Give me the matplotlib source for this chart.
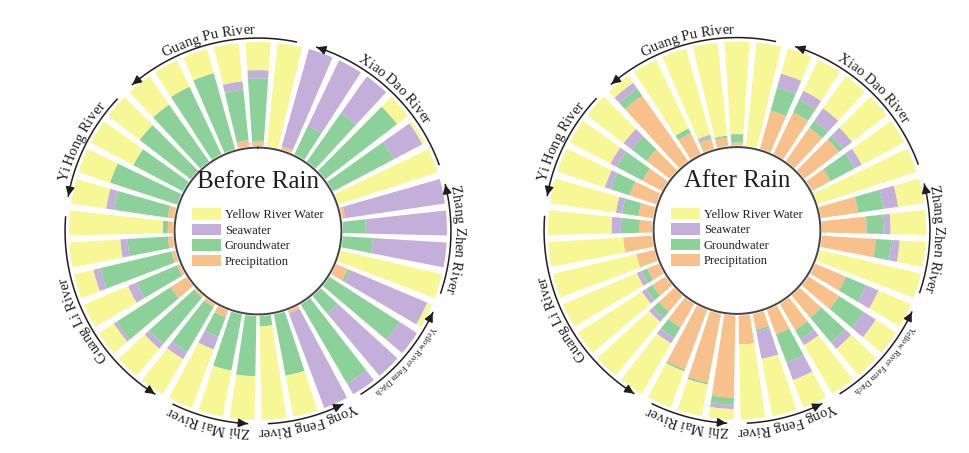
"""
Water source contributions at the sampling sites, before and after rain,
drawn as two circular stacked bar charts.
"""

import numpy as np
import matplotlib.pyplot as plt
from matplotlib.patches import Patch
from matplotlib.font_manager import FontProperties

OUT_FILE = "out.png"

# Sampling sites grouped by river, clockwise from the top-left of each ring
RIVERS = ["Guang Pu River", "Xiao Dao River", "Zhang Zhen River",
          "Yellow River Farm Ditch", "Yong Feng River", "Zhi Mai River",
          "Guang Li River", "Yi Hong River"]
SITES_PER_RIVER = [6, 6, 4, 4, 3, 3, 7, 4]

# Contribution of each source (%), one value per site
BEFORE_PRECIPITATION = [0, 0, 0, 6, 5, 0, 3, 0, 0, 0, 0, 0, 3, 0, 0, 0, 12, 0, 0, 0,
                        3, 0, 0, 0, 0, 7, 3, 2, 18, 3, 4, 5, 5, 6, 0, 0, 0]
BEFORE_GROUNDWATER = [67, 72, 76, 49, 60, 0, 0, 30, 57, 87, 66, 0, 0, 22, 29, 0, 3, 80, 22, 88,
                      0, 60, 10, 58, 55, 20, 50, 58, 62, 42, 70, 39, 5, 52, 68, 54, 62]
BEFORE_SEAWATER = [0, 0, 0, 8, 8, 0, 97, 70, 43, 0, 31, 0, 97, 78, 71, 0, 80, 20, 78, 12,
                   97, 0, 0, 0, 0, 13, 8, 6, 3, 9, 7, 7, 0, 8, 0, 0, 0]
BEFORE_YELLOW_RIVER = [33, 28, 24, 37, 27, 100, 0, 0, 0, 13, 3, 100, 0, 0, 0, 100, 5, 0, 0, 0,
                       0, 40, 90, 42, 45, 60, 39, 34, 17, 46, 19, 49, 90, 34, 32, 46, 38]

AFTER_PRECIPITATION = [77, 22, 10, 8, 3, 0, 38, 44, 39, 42, 20, 0, 36, 43, 52, 0, 32, 35, 28, 29,
                       25, 15, 28, 79, 67, 61, 26, 20, 15, 12, 18, 28, 12, 14, 27, 21, 28]
AFTER_GROUNDWATER = [8, 5, 2, 2, 8, 0, 23, 13, 8, 5, 26, 0, 25, 16, 15, 0, 21, 28, 31, 10,
                     29, 2, 0, 7, 2, 2, 12, 8, 7, 6, 0, 0, 18, 16, 19, 28, 18]
AFTER_SEAWATER = [7, 0, 2, 0, 0, 0, 14, 10, 15, 11, 8, 0, 14, 7, 8, 0, 13, 14, 8, 7,
                  18, 27, 0, 4, 0, 0, 6, 5, 5, 5, 0, 0, 9, 6, 6, 7, 10]
AFTER_YELLOW_RIVER = [8, 73, 86, 90, 89, 100, 25, 33, 38, 42, 46, 100, 25, 34, 25, 100, 34, 23, 33, 54,
                      28, 56, 72, 10, 31, 37, 56, 67, 73, 77, 82, 72, 61, 64, 48, 44, 44]

LEGEND_NAMES = ["Yellow River Water", "Seawater", "Groundwater", "Precipitation"]
COLORS = {"Yellow River Water": "#F8F796", "Seawater": "#C3AFD9",
          "Groundwater": "#8DD19A", "Precipitation": "#F8C08B"}

# Layout (pixels / radial units)
FIG_W, FIG_H, DPI = 969, 453, 100
HOLE = 81.7          # radius of the empty centre, in % units
RMAX = 200
PX_PER_UNIT = 1.04
ARROW_R = 185.5
LABEL_R = 189.5
FONT = "Liberation Serif"
INK = "#1e1e1e"

plt.rcParams["font.family"] = FONT


def curved_label(ax, renderer, text, center, size):
    """Writes text along the ring, letters pointing outwards, reading clockwise."""
    prop = FontProperties(family=FONT, size=size)
    bar_w = renderer.get_text_width_height_descent("|", prop, ismath=False)[0]

    def width(s):
        return renderer.get_text_width_height_descent(s + "|", prop, ismath=False)[0] - bar_w

    r_px = LABEL_R * PX_PER_UNIT
    start = center - width(text) / 2 / r_px
    for i, ch in enumerate(text):
        if ch == " ":
            continue
        mid = (width(text[:i]) + width(text[:i + 1])) / 2
        th = start + mid / r_px
        ax.text(th, LABEL_R, ch, rotation=-np.degrees(th), rotation_mode="anchor",
                ha="center", va="baseline", fontproperties=prop, color=INK)


def draw_ring(fig, center_px, title, layers):
    """layers: (name, values) from the inner ring outwards."""
    half = RMAX * PX_PER_UNIT
    cx, cy = center_px
    ax = fig.add_axes([(cx - half) / FIG_W, (FIG_H - cy - half) / FIG_H,
                       2 * half / FIG_W, 2 * half / FIG_H], projection="polar")
    ax.set_theta_zero_location("N")
    ax.set_theta_direction(-1)

    n = len(layers[0][1])
    step = 2 * np.pi / n
    theta = (np.arange(n) - 4) * step
    bottom = np.full(n, HOLE)
    for name, values in layers:
        values = np.asarray(values, dtype=float)
        ax.bar(theta, values, width=0.78 * step, bottom=bottom,
               color=COLORS[name], linewidth=0)
        bottom = bottom + values

    ring = np.linspace(0, 2 * np.pi, 361)
    ax.plot(ring, np.full_like(ring, HOLE - 1.5), color="#444444", lw=1.4)
    ax.set_ylim(0, RMAX)
    ax.axis("off")

    # river arcs with arrows and curved names
    renderer = fig.canvas.get_renderer()
    first = 0
    for river, count in zip(RIVERS, SITES_PER_RIVER):
        t0 = theta[first] - 0.03
        t1 = theta[first + count - 1] + 0.03
        arc = np.linspace(t0, t1, 100)
        ax.plot(arc, np.full_like(arc, ARROW_R), color=INK, lw=1.1)
        ax.annotate("", xy=(t0, ARROW_R), xytext=(t0 + 0.05, ARROW_R),
                    arrowprops=dict(arrowstyle="-|>", color=INK, lw=1.1,
                                    mutation_scale=13, shrinkA=0, shrinkB=0))
        size = 6 if len(river) > 16 else 10.5
        curved_label(ax, renderer, river, (t0 + t1) / 2, size)
        first += count

    ax.text(0.5, 0.5 + 49 / (2 * half), title, transform=ax.transAxes,
            ha="center", va="center", fontsize=18, color=INK)
    handles = [Patch(facecolor=COLORS[name], edgecolor="none") for name in LEGEND_NAMES]
    ax.legend(handles, LEGEND_NAMES, loc="center",
              bbox_to_anchor=(0.5, 0.5 - 7 / (2 * half)), frameon=False,
              fontsize=9, handlelength=2.25, handleheight=1.05,
              handletextpad=0.35, labelspacing=0.2, labelcolor=INK)
    return ax


def execute():
    fig = plt.figure(figsize=(FIG_W / DPI, FIG_H / DPI), dpi=DPI)
    draw_ring(fig, (258, 231), "Before Rain", [
        ("Precipitation", BEFORE_PRECIPITATION),
        ("Groundwater", BEFORE_GROUNDWATER),
        ("Seawater", BEFORE_SEAWATER),
        ("Yellow River Water", BEFORE_YELLOW_RIVER),
    ])
    draw_ring(fig, (737, 230.5), "After Rain", [
        ("Precipitation", AFTER_PRECIPITATION),
        ("Groundwater", AFTER_GROUNDWATER),
        ("Seawater", AFTER_SEAWATER),
        ("Yellow River Water", AFTER_YELLOW_RIVER),
    ])
    fig.savefig(OUT_FILE, dpi=DPI, facecolor="white")


if __name__ == "__main__":
    execute()
